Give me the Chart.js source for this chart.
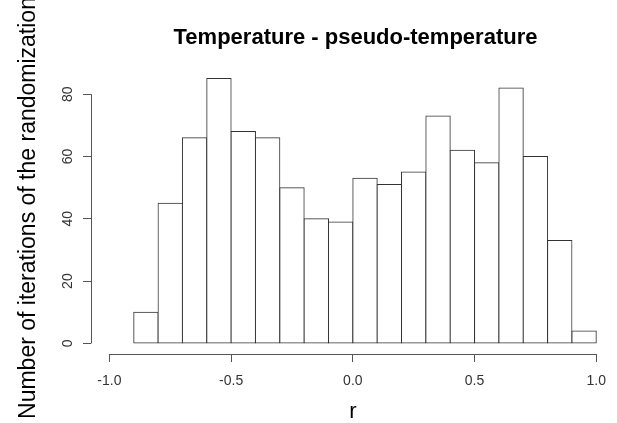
<!DOCTYPE html>
<html>
<head>
<meta charset="utf-8">
<script src="https://cdn.jsdelivr.net/npm/chart.js@4"></script>
<style>
    html, body { margin: 0; padding: 0; background: #fff; }
    #wrap { width: 617px; height: 423px; }
</style>
</head>
<body>
<div id="wrap"><canvas id="histChart" width="617" height="423"></canvas></div>
<script>
// Histogram bins (left/right edges) and counts
const binEdges = [-0.9, -0.8, -0.7, -0.6, -0.5, -0.4, -0.3, -0.2, -0.1, 0.0,
                  0.1, 0.2, 0.3, 0.4, 0.5, 0.6, 0.7, 0.8, 0.9, 1.0];
const counts = [10, 45, 66, 85, 68, 66, 50, 40, 39, 53, 51, 55, 73, 62, 58, 82, 60, 33, 4];
const xTicks = [-1.0, -0.5, 0.0, 0.5, 1.0];
const yTicks = [0, 20, 40, 60, 80];

const titleText = 'Temperature - pseudo-temperature';
const xTitle = 'r';
const yTitle = 'Number of iterations of the randomization';

const FONT = 'Liberation Sans, Arial, sans-serif';
const AXIS_COLOR = '#555';

const points = counts.map((c, i) => ({ x: (binEdges[i] + binEdges[i + 1]) / 2, y: c }));

// R-style axes: lines only span first..last tick, plus titles
const rAxes = {
    id: 'rAxes',
    afterDraw(chart) {
        const { ctx, chartArea, scales } = chart;
        const xs = scales.x, ys = scales.y;
        ctx.save();
        ctx.strokeStyle = AXIS_COLOR;
        ctx.lineWidth = 1;
        ctx.beginPath();
        const xl = Math.round(chartArea.left) + 0.5;
        ctx.moveTo(xl, ys.getPixelForValue(yTicks[0]));
        ctx.lineTo(xl, ys.getPixelForValue(yTicks[yTicks.length - 1]));
        const yb = Math.round(chartArea.bottom) + 0.5;
        ctx.moveTo(xs.getPixelForValue(xTicks[0]), yb);
        ctx.lineTo(xs.getPixelForValue(xTicks[xTicks.length - 1]), yb);
        ctx.stroke();

        ctx.fillStyle = '#000';
        ctx.font = 'bold 22px ' + FONT;
        ctx.textAlign = 'center';
        ctx.textBaseline = 'alphabetic';
        ctx.fillText(titleText, 355.5, 43.5);

        ctx.font = '22px ' + FONT;
        ctx.fillText(xTitle, xs.getPixelForValue(0), 418);

        ctx.font = '23px ' + FONT;
        ctx.translate(35, 208);
        ctx.rotate(-Math.PI / 2);
        ctx.fillText(yTitle, 0, 0);
        ctx.restore();
    }
};

new Chart(document.getElementById('histChart').getContext('2d'), {
    type: 'bar',
    data: {
        datasets: [{
            data: points,
            backgroundColor: '#fff',
            borderColor: '#333',
            borderWidth: 1,
            borderSkipped: false,
            inflateAmount: 0.5,
            barPercentage: 1,
            categoryPercentage: 1
        }]
    },
    options: {
        responsive: false,
        animation: false,
        devicePixelRatio: 1,
        layout: { padding: { top: 68, right: 0, left: 0, bottom: 0 } },
        plugins: {
            legend: { display: false },
            title: { display: false },
            tooltip: { enabled: false }
        },
        scales: {
            x: {
                type: 'linear',
                offset: false,
                min: -1.0756,
                max: 1.0613,
                afterBuildTicks: s => { s.ticks = xTicks.map(v => ({ value: v })); },
                afterFit: s => { s.height = 69; },
                border: { display: false },
                grid: { display: true, offset: false, drawOnChartArea: false, drawTicks: true, tickLength: 8, color: AXIS_COLOR },
                ticks: {
                    color: '#333',
                    font: { family: FONT, size: 14 },
                    padding: 11,
                    maxRotation: 0,
                    autoSkip: false,
                    callback: v => v.toFixed(1)
                }
            },
            y: {
                type: 'linear',
                min: -3.4,
                max: 88.4,
                afterBuildTicks: s => { s.ticks = yTicks.map(v => ({ value: v })); },
                afterFit: s => { s.width = 91; },
                border: { display: false },
                grid: { display: true, drawOnChartArea: false, drawTicks: true, tickLength: 8, color: AXIS_COLOR },
                ticks: {
                    color: '#333',
                    font: { family: FONT, size: 14 },
                    padding: 7,
                    minRotation: 90,
                    maxRotation: 90,
                    crossAlign: 'center',
                    autoSkip: false
                }
            }
        }
    },
    plugins: [rAxes]
});
</script>
</body>
</html>
